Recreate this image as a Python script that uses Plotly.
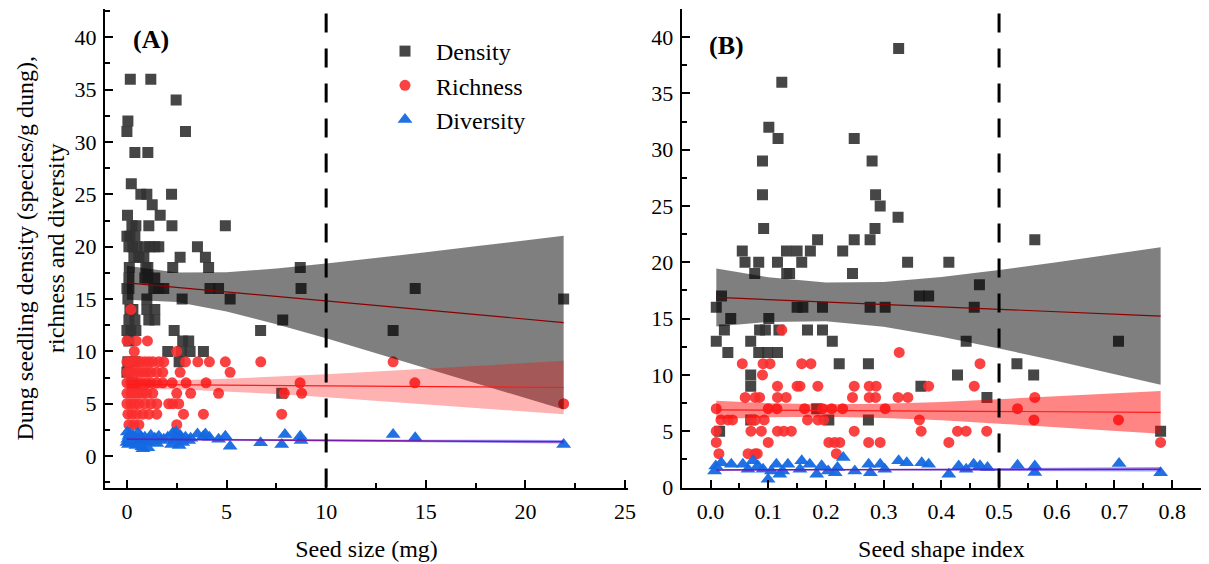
import plotly.graph_objects as go

# The page has an 8 px body margin; figure is sized so it fills the window.
OFF = 8
W, H = 1209 - OFF, 564 - OFF
FONT = "'Liberation Serif', 'Times New Roman', Times, serif"


def px(x):
    return (x - OFF) / W


def py(y):
    return 1 - (y - OFF) / H


# ---------------- Panel A: seed size (mg) ----------------
a_dens_x = [0.17, 1.2, 2.47, 0.05, 0.0, 2.94, 0.4, 1.05, 0.22, 0.7,
            1.0, 2.24, 1.27, 0.03, 1.67, 0.25, 0.45, 1.1, 2.26, 4.94,
            0.0, 0.15, 0.4, 0.1, 0.3, 0.5, 0.9, 1.15, 1.4, 1.6,
            3.54, 0.35, 0.6, 0.85, 2.67, 3.94, 0.12, 0.95, 1.05, 2.3,
            4.1, 8.7, 0.1, 0.9, 1.05, 1.4, 0.0, 0.1, 1.35, 1.6,
            1.85, 4.17, 4.6, 8.74, 14.47, 0.05, 1.0, 2.77, 5.18, 21.92,
            0.15, 0.3, 1.0, 1.4, 0.1, 0.4, 1.1, 1.4, 7.82, 0.0,
            0.2, 0.45, 2.37, 6.71, 13.36, 2.8, 3.1, 0.1, 2.05, 2.74,
            3.17, 3.84, 0.05, 0.4, 2.62, 0.0, 0.3, 7.77]
a_dens_y = [36, 36, 34, 32, 31, 31, 29, 29, 26, 25,
            25, 25, 24, 23, 23, 22, 22, 22, 22, 22,
            21, 21, 21, 20, 20, 20, 20, 20, 20, 20,
            20, 19, 19, 19, 19, 19, 18, 18, 18, 18,
            18, 18, 17, 17, 17, 17, 16, 16, 16, 16,
            16, 16, 16, 16, 16, 15, 15, 15, 15, 15,
            14, 14, 14, 14, 13, 13, 13, 13, 13, 12,
            12, 12, 12, 12, 12, 11, 11, 11, 10, 10,
            10, 10, 9, 9, 9, 8, 7, 6]

a_rich_x = [0.2, 0.0, 0.47, 1.03, 0.37, 2.5,
            0.0, 0.15, 0.3, 0.5, 0.7, 0.9, 1.1, 1.3, 1.6, 1.85, 2.94, 3.56, 4.14, 4.94, 6.72, 13.36,
            0.0, 0.2, 0.4, 0.6, 0.8, 1.0, 1.2, 1.5, 1.8, 2.67, 5.18,
            0.0, 0.15, 0.35, 0.55, 0.75, 1.0, 1.2, 1.5, 1.8, 2.27, 2.97, 3.97, 8.69, 14.45,
            0.0, 0.2, 0.4, 0.6, 0.8, 1.0, 1.3, 2.5, 3.2, 4.6, 7.9, 8.77,
            0.0, 0.2, 0.4, 0.6, 0.9, 1.2, 1.5, 2.1, 2.3, 2.6, 21.92,
            0.05, 0.25, 0.5, 0.8, 1.1, 1.5, 2.84, 3.84, 7.77,
            0.1, 0.35, 0.6, 2.5]
a_rich_y = [14, 11, 11, 11, 10, 10,
            9, 9, 9, 9, 9, 9, 9, 9, 9, 9, 9, 9, 9, 9, 9, 9,
            8, 8, 8, 8, 8, 8, 8, 8, 8, 8, 8,
            7, 7, 7, 7, 7, 7, 7, 7, 7, 7, 7, 7, 7, 7,
            6, 6, 6, 6, 6, 6, 6, 6, 6, 6, 6, 6,
            5, 5, 5, 5, 5, 5, 5, 5, 5, 5, 5,
            4, 4, 4, 4, 4, 4, 4, 4, 4,
            3, 3, 3, 3]

a_div_x = [0.0, 0.02, 0.05, 0.08, 0.1, 0.12, 0.15, 0.18, 0.2, 0.25,
           0.3, 0.35, 0.4, 0.45, 0.5, 0.55, 0.6, 0.7, 0.75, 0.8,
           0.85, 0.9, 1.0, 1.05, 1.1, 1.2, 1.3, 1.4, 1.5, 1.6,
           1.7, 1.85, 2.05, 2.24, 2.3, 2.37, 2.47, 2.5, 2.62, 2.67,
           2.74, 2.8, 2.94, 3.1, 3.2, 3.54, 3.84, 3.94, 4.14, 4.6,
           4.94, 5.18, 6.71, 7.77, 7.93, 8.7, 8.74, 13.36, 14.47, 21.92]
a_div_y = [1.3, 2.3, 1.6, 1.1, 1.9, 1.4, 2.1, 1.2, 1.7, 1.5,
           2.0, 1.3, 1.8, 1.0, 1.6, 2.2, 1.4, 1.9, 0.9, 0.7,
           1.5, 1.8, 1.3, 0.8, 1.6, 2.0, 1.4, 1.7, 1.2, 1.9,
           1.5, 1.6, 1.8, 1.1, 2.2, 1.5, 2.3, 1.9, 1.0, 2.0,
           1.6, 1.3, 1.8, 1.5, 1.7, 2.1, 1.9, 2.1, 1.8, 1.6,
           1.9, 0.95, 1.27, 1.1, 2.07, 1.9, 1.5, 2.07, 1.75, 1.1]

# linear fits with 95% confidence bands
a_fit_x = [0, 2.5, 5, 7.5, 10, 12.5, 15, 17.5, 20, 21.92]
a_dens_fit = [16.55, 16.12, 15.68, 15.25, 14.82, 14.38, 13.95, 13.51, 13.08, 12.75]
a_dens_hi = [18.17, 17.53, 17.55, 17.91, 18.39, 18.91, 19.46, 20.03, 20.61, 21.05]
a_dens_lo = [14.93, 14.71, 13.81, 12.59, 11.25, 9.85, 8.44, 6.99, 5.55, 4.45]
a_rich_fit = [6.85, 6.82, 6.78, 6.75, 6.71, 6.68, 6.64, 6.61, 6.58, 6.55]
a_rich_hi = [7.34, 7.25, 7.38, 7.57, 7.81, 8.07, 8.34, 8.61, 8.89, 9.10]
a_rich_lo = [6.36, 6.39, 6.18, 5.93, 5.61, 5.29, 4.94, 4.61, 4.27, 4.00]
a_div_fit = [1.62, 1.59, 1.56, 1.53, 1.51, 1.48, 1.45, 1.42, 1.39, 1.37]
a_div_hi = [1.67, 1.64, 1.62, 1.60, 1.59, 1.58, 1.57, 1.56, 1.55, 1.54]
a_div_lo = [1.57, 1.54, 1.50, 1.46, 1.43, 1.38, 1.33, 1.28, 1.23, 1.20]

# ---------------- Panel B: seed shape index ----------------
b_dens_x = [0.326, 0.1235, 0.101, 0.117, 0.249, 0.09, 0.28, 0.09, 0.286, 0.294,
            0.325, 0.092, 0.285, 0.1855, 0.249, 0.2765, 0.562, 0.055, 0.1316, 0.15,
            0.173, 0.229, 0.0597, 0.0835, 0.116, 0.158, 0.3415, 0.413, 0.0765, 0.132,
            0.137, 0.246, 0.466, 0.019, 0.362, 0.378, 0.0099, 0.15, 0.16, 0.194,
            0.2765, 0.3026, 0.457, 0.035, 0.101, 0.024, 0.085, 0.095, 0.1185, 0.168,
            0.194, 0.0099, 0.0696, 0.211, 0.443, 0.707, 0.030, 0.0835, 0.099, 0.116,
            0.223, 0.2736, 0.531, 0.0696, 0.428, 0.56, 0.0696, 0.3646, 0.479, 0.184,
            0.0696, 0.205, 0.2736, 0.0157, 0.78]
b_dens_y = [39, 36, 32, 31, 31, 29, 29, 26, 26, 25,
            24, 23, 23, 22, 22, 22, 22, 21, 21, 21,
            21, 21, 20, 20, 20, 20, 20, 20, 19, 19,
            19, 19, 18, 17, 17, 17, 16, 16, 16, 16,
            16, 16, 16, 15, 15, 14, 14, 14, 14, 14,
            14, 13, 13, 13, 13, 13, 12, 12, 12, 12,
            11, 11, 11, 10, 10, 10, 9, 9, 8, 7,
            6, 6, 6, 5, 5]

b_rich_x = [0.1235, 0.327,
            0.055, 0.091, 0.103, 0.158, 0.174, 0.467,
            0.09,
            0.116, 0.15, 0.155, 0.186, 0.249, 0.275, 0.287, 0.378, 0.457,
            0.06, 0.0775, 0.085, 0.116, 0.131, 0.246, 0.275, 0.286, 0.325, 0.342, 0.562,
            0.0099, 0.1, 0.115, 0.163, 0.194, 0.21, 0.229, 0.3026, 0.532,
            0.018, 0.03, 0.038, 0.07, 0.078, 0.093, 0.168, 0.186, 0.196, 0.362, 0.5605, 0.707,
            0.0099, 0.07, 0.088, 0.116, 0.127, 0.14, 0.249, 0.365, 0.428, 0.443, 0.4786,
            0.0099, 0.1, 0.205, 0.215, 0.224, 0.274, 0.294, 0.413, 0.78,
            0.0145, 0.065, 0.077, 0.081, 0.218]
b_rich_y = [14, 12,
            11, 11, 11, 11, 11, 11,
            10,
            9, 9, 9, 9, 9, 9, 9, 9, 9,
            8, 8, 8, 8, 8, 8, 8, 8, 8, 8, 8,
            7, 7, 7, 7, 7, 7, 7, 7, 7,
            6, 6, 6, 6, 6, 6, 6, 6, 6, 6, 6, 6,
            5, 5, 5, 5, 5, 5, 5, 5, 5, 5, 5,
            4, 4, 4, 4, 4, 4, 4, 4, 4,
            3, 3, 3, 3, 3]

b_div_x = [0.007, 0.009, 0.0186, 0.036, 0.056, 0.065, 0.0736, 0.082, 0.091, 0.0997,
           0.1055, 0.114, 0.12, 0.125, 0.134, 0.158, 0.155, 0.172, 0.184, 0.1925,
           0.204, 0.216, 0.22, 0.23, 0.25, 0.274, 0.277, 0.294, 0.302, 0.326,
           0.34, 0.366, 0.378, 0.413, 0.43, 0.443, 0.456, 0.467, 0.48, 0.532,
           0.562, 0.562, 0.708, 0.78]
b_div_y = [1.47, 1.9, 2.2, 2.07, 2.07, 1.62, 2.37, 1.93, 1.62, 0.73,
           1.47, 2.07, 1.18, 1.47, 2.07, 2.37, 1.62, 2.07, 1.18, 1.93,
           1.47, 1.3, 1.77, 2.66, 1.47, 2.07, 1.3, 2.07, 1.62, 2.37,
           2.2, 2.2, 2.07, 1.18, 1.92, 1.62, 2.07, 1.93, 1.77, 1.97,
           1.92, 1.33, 2.13, 1.32]

b_fit_x = [0.01, 0.1, 0.2, 0.3, 0.4, 0.5, 0.6, 0.7, 0.78]
b_dens_fit = [16.88, 16.69, 16.48, 16.26, 16.04, 15.83, 15.62, 15.40, 15.23]
b_dens_hi = [19.45, 18.68, 18.20, 18.25, 18.69, 19.31, 20.01, 20.73, 21.33]
b_dens_lo = [14.31, 14.70, 14.76, 14.27, 13.39, 12.35, 11.23, 10.07, 9.13]
b_rich_fit = [6.89, 6.86, 6.84, 6.81, 6.78, 6.76, 6.73, 6.70, 6.68]
b_rich_hi = [7.70, 7.49, 7.39, 7.44, 7.59, 7.85, 8.10, 8.35, 8.58]
b_rich_lo = [6.08, 6.23, 6.29, 6.18, 5.97, 5.67, 5.36, 5.05, 4.78]
b_div_fit = [1.56, 1.567, 1.575, 1.583, 1.59, 1.60, 1.607, 1.615, 1.62]
b_div_hi = [1.64, 1.627, 1.625, 1.643, 1.67, 1.71, 1.747, 1.785, 1.82]
b_div_lo = [1.48, 1.507, 1.525, 1.523, 1.51, 1.49, 1.467, 1.445, 1.42]

x_ticks_a = [0, 5, 10, 15, 20, 25]
x_ticks_b = [0.0, 0.1, 0.2, 0.3, 0.4, 0.5, 0.6, 0.7, 0.8]
y_ticks = [0, 5, 10, 15, 20, 25, 30, 35, 40]
threshold_a = 10
threshold_b = 0.5

series_names = ["Density", "Richness", "Diversity"]
DENS_C = "rgba(50,50,50,0.9)"
RICH_C = "rgba(250,45,45,0.9)"
DIV_C = "rgba(20,105,225,0.95)"

fig = go.Figure()


def add_panel(xa, ya, dx, dy, rx, ry, vx, vy, show_legend):
    specs = [
        (dx, dy, "square", DENS_C, 11, series_names[0]),
        (rx, ry, "circle", RICH_C, 11, series_names[1]),
        (vx, vy, "triangle-up", DIV_C, 13, series_names[2]),
    ]
    for xs, ys, sym, col, sz, nm in specs:
        fig.add_trace(go.Scatter(
            x=xs, y=ys, mode="markers", name=nm, xaxis=xa, yaxis=ya,
            legendgroup=nm, showlegend=show_legend,
            marker=dict(symbol=sym, color=col, size=sz, line=dict(width=0)),
        ))


def add_band(xa, ya, fx, hi, lo, fill_col):
    fig.add_trace(go.Scatter(
        x=list(fx) + list(fx[::-1]), y=list(hi) + list(lo[::-1]),
        xaxis=xa, yaxis=ya, mode="lines", fill="toself", fillcolor=fill_col,
        line=dict(width=0), showlegend=False, hoverinfo="skip",
    ))


def add_fit(xa, ya, fx, fy, col, w):
    fig.add_trace(go.Scatter(
        x=fx, y=fy, xaxis=xa, yaxis=ya, mode="lines",
        line=dict(color=col, width=w), showlegend=False, hoverinfo="skip",
    ))


# Panel A
add_panel("x", "y", a_dens_x, a_dens_y, a_rich_x, a_rich_y, a_div_x, a_div_y, True)
add_band("x", "y", a_fit_x, a_dens_hi, a_dens_lo, "rgba(0,0,0,0.5)")
add_band("x", "y", a_fit_x, a_rich_hi, a_rich_lo, "rgba(255,0,0,0.3)")
add_band("x", "y", a_fit_x, a_div_hi, a_div_lo, "rgba(40,40,255,0.45)")
add_fit("x", "y", a_fit_x, a_dens_fit, "#8b0000", 1.2)
add_fit("x", "y", a_fit_x, a_rich_fit, "#ff1a1a", 1.2)
add_fit("x", "y", a_fit_x, a_div_fit, "#7a1aa8", 1.5)

# Panel B
add_panel("x2", "y2", b_dens_x, b_dens_y, b_rich_x, b_rich_y, b_div_x, b_div_y, False)
add_band("x2", "y2", b_fit_x, b_dens_hi, b_dens_lo, "rgba(0,0,0,0.5)")
add_band("x2", "y2", b_fit_x, b_rich_hi, b_rich_lo, "rgba(255,0,0,0.48)")
add_band("x2", "y2", b_fit_x, b_div_hi, b_div_lo, "rgba(40,40,255,0.45)")
add_fit("x2", "y2", b_fit_x, b_dens_fit, "#8b0000", 1.2)
add_fit("x2", "y2", b_fit_x, b_rich_fit, "#ff1a1a", 1.2)
add_fit("x2", "y2", b_fit_x, b_div_fit, "#7a1aa8", 1.5)

tickfont = dict(family=FONT, size=22, color="black")
titlefont = dict(family=FONT, size=24, color="black")

common = dict(
    showgrid=False, zeroline=False, showline=True, linecolor="black", linewidth=2,
    ticks="inside", ticklen=8, tickwidth=2, tickcolor="black", tickfont=tickfont,
    automargin=False, mirror=False,
)
minor_y = dict(dtick=2.5, tick0=0, ticks="inside", ticklen=5, tickwidth=1.5, tickcolor="black")

yd = [py(487.5), py(9)]
fig.update_layout(
    width=W, height=H, margin=dict(l=0, r=0, t=0, b=0),
    paper_bgcolor="white", plot_bgcolor="white",
    font=dict(family=FONT, color="black"),
    xaxis=dict(domain=[px(105), px(628)], range=[-1.1, 25.15], anchor="y",
               tickvals=x_ticks_a, ticklabelstandoff=3,
               minor=dict(dtick=2.5, tick0=0, ticks="inside", ticklen=5, tickwidth=1.5, tickcolor="black"),
               title=dict(text="Seed size (mg)", font=titlefont, standoff=17), **common),
    yaxis=dict(domain=yd, range=[-3.0, 42.7], anchor="x",
               tickvals=y_ticks, ticklabelstandoff=2, minor=minor_y,
               title=dict(text="Dung seedling density (species/g dung),<br>richness and diversity",
                          font=titlefont, standoff=3), **common),
    xaxis2=dict(domain=[px(681.7), px(1201)], range=[-0.05, 0.85], anchor="y2",
                tickvals=x_ticks_b, tickformat=".1f", ticklabelstandoff=3,
                minor=dict(dtick=0.05, tick0=0, ticks="inside", ticklen=5, tickwidth=1.5, tickcolor="black"),
                title=dict(text="Seed shape index", font=titlefont, standoff=17), **common),
    yaxis2=dict(domain=yd, range=[0, 42.5], anchor="x2",
                tickvals=y_ticks, ticklabelstandoff=2, minor=minor_y, **common),
    legend=dict(x=px(374), y=py(29), xanchor="left", yanchor="top",
                font=dict(family=FONT, size=24, color="black"),
                bgcolor="rgba(0,0,0,0)", borderwidth=0, tracegroupgap=0, itemwidth=52),
    showlegend=True,
)

for xref, yref, xv in [("x", "y domain", threshold_a), ("x2", "y2 domain", threshold_b)]:
    fig.add_shape(type="line", xref=xref, yref=yref, x0=xv, x1=xv, y0=0, y1=1,
                  line=dict(color="black", width=3, dash="19px,16px"))

fig.add_annotation(text="<b>(A)</b>", x=px(151), y=py(40), xref="paper", yref="paper",
                   xanchor="center", yanchor="middle",
                   showarrow=False, font=dict(family=FONT, size=26, color="black"))
fig.add_annotation(text="<b>(B)</b>", x=px(726), y=py(45), xref="paper", yref="paper",
                   xanchor="center", yanchor="middle",
                   showarrow=False, font=dict(family=FONT, size=26, color="black"))

fig.write_html("out.html")
